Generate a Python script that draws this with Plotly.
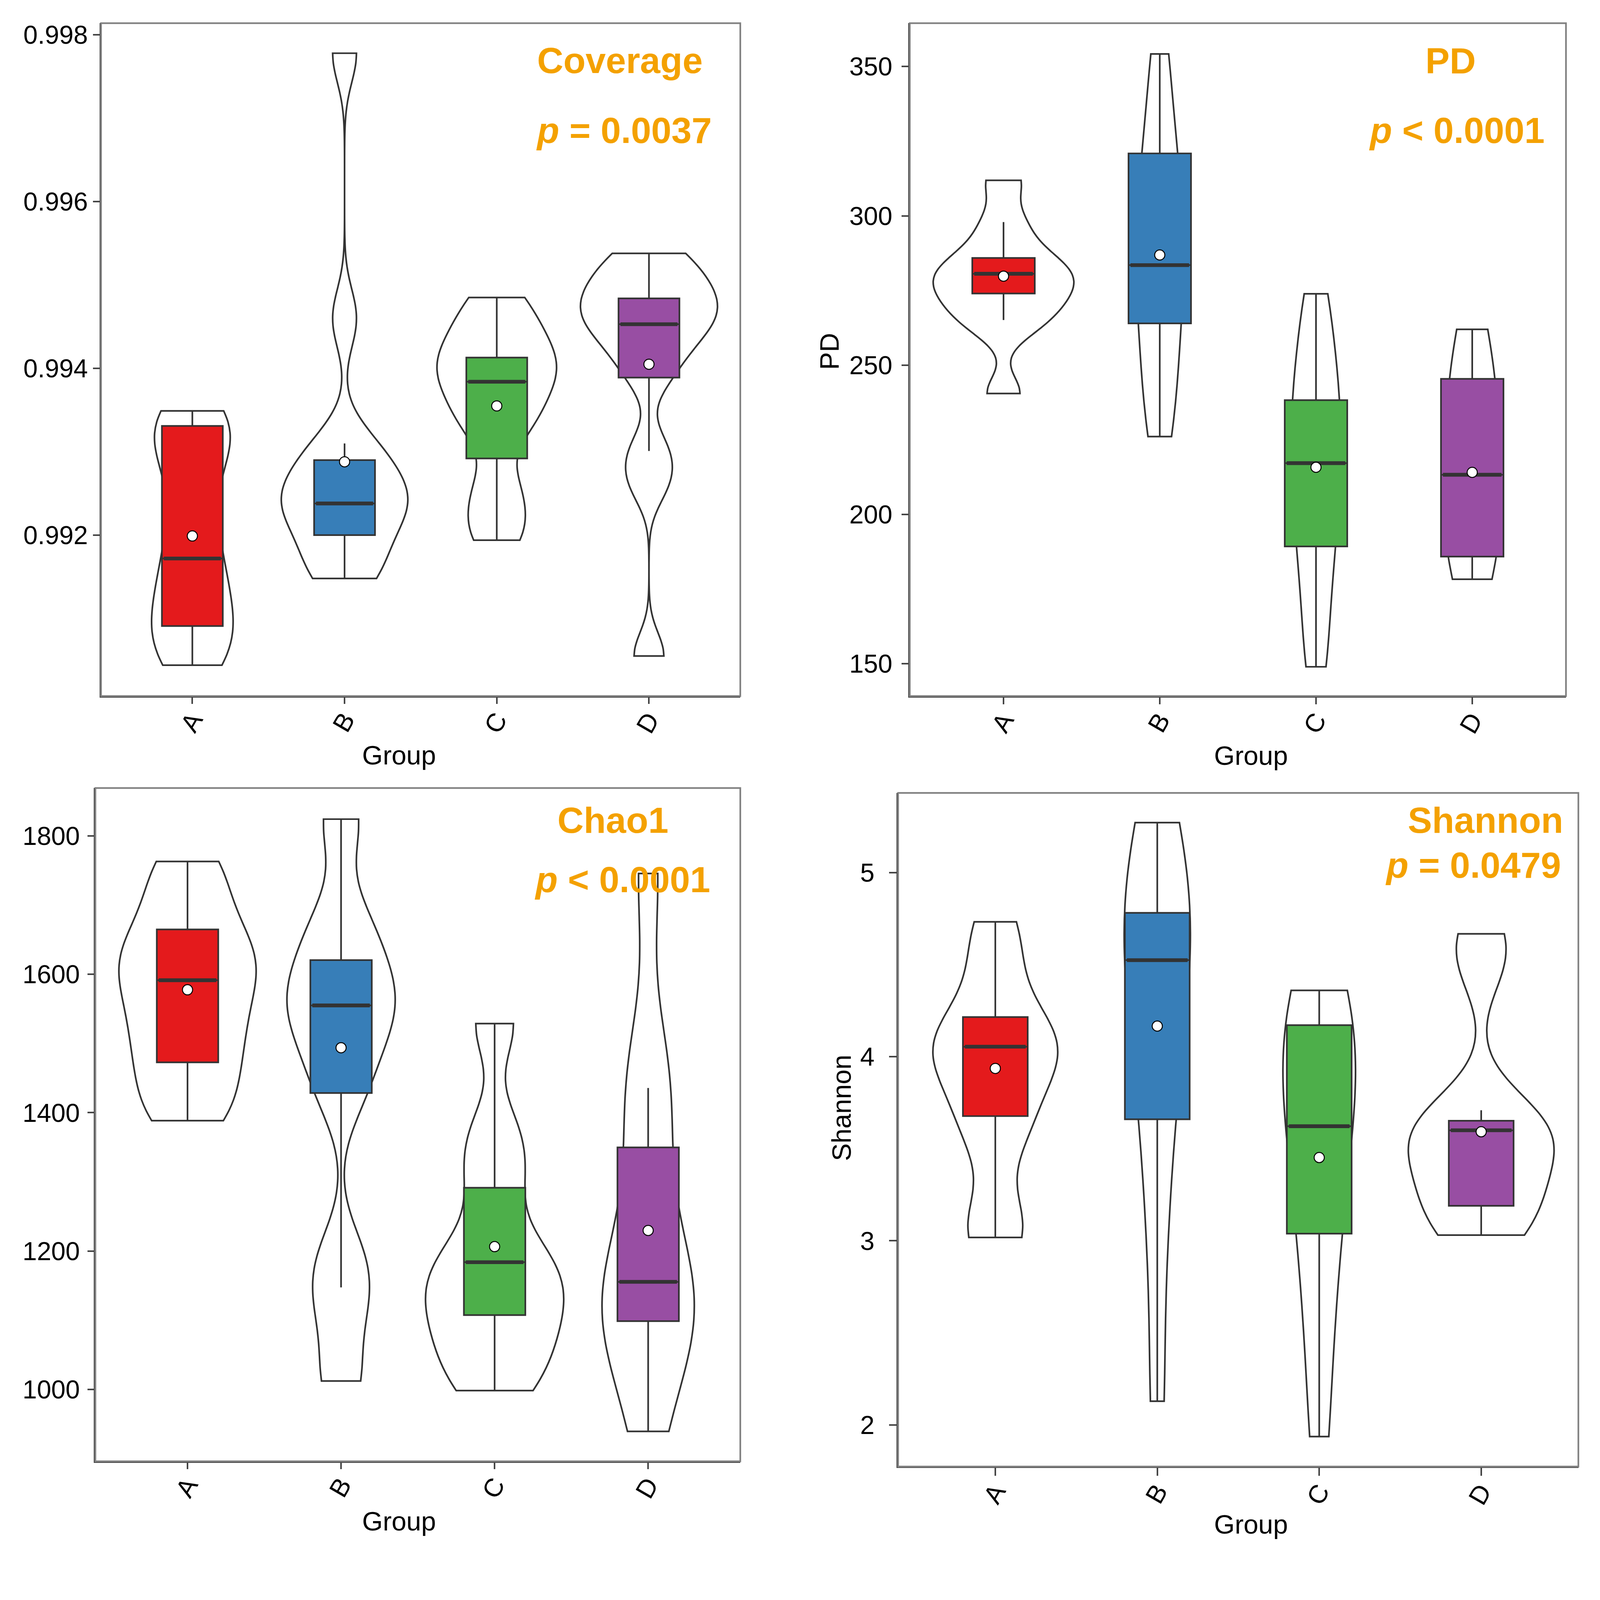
import plotly.graph_objects as go

groups = ["A", "B", "C", "D"]
colors = ["#E41A1C", "#377EB8", "#4DAF4A", "#984EA3"]

# ---- box statistics: q1, median, q3, lower whisker, upper whisker, mean
cov_q1 = [0.99091, 0.99200, 0.99292, 0.99389]
cov_med = [0.99172, 0.99238, 0.99384, 0.99453]
cov_q3 = [0.99331, 0.99290, 0.99413, 0.99484]
cov_lo = [0.99044, 0.99148, 0.99194, 0.99301]
cov_hi = [0.99349, 0.99310, 0.99485, 0.99538]
cov_mean = [0.99199, 0.99288, 0.99355, 0.99405]

pd_q1 = [274.0, 264.0, 189.3, 185.9]
pd_med = [280.6, 283.5, 217.2, 213.3]
pd_q3 = [285.9, 320.9, 238.3, 245.4]
pd_lo = [265.1, 226.1, 149.0, 178.3]
pd_hi = [297.9, 354.2, 273.9, 262.0]
pd_mean = [279.8, 286.9, 215.8, 214.1]

chao_q1 = [1472.7, 1428.4, 1107.6, 1098.9]
chao_med = [1591.3, 1554.9, 1184.0, 1155.6]
chao_q3 = [1664.7, 1620.4, 1291.6, 1349.8]
chao_lo = [1388.4, 1147.6, 998.5, 939.6]
chao_hi = [1762.9, 1824.0, 1528.7, 1435.6]
chao_mean = [1577.5, 1493.8, 1206.5, 1229.8]

sh_q1 = [3.677, 3.660, 3.039, 3.190]
sh_med = [4.054, 4.524, 3.622, 3.600]
sh_q3 = [4.215, 4.781, 4.171, 3.652]
sh_lo = [3.018, 2.129, 1.937, 3.031]
sh_hi = [4.732, 5.271, 4.360, 3.709]
sh_mean = [3.936, 4.166, 3.452, 3.592]

# ---- estimated sample values behind the violins
cov_A = [0.99044, 0.99062, 0.99085, 0.99110, 0.99135, 0.99165, 0.99200, 0.99245, 0.99290, 0.99315, 0.99335, 0.99349]
cov_B = [0.99148, 0.99160, 0.99190, 0.99215, 0.99235, 0.99240, 0.99250, 0.99270, 0.99295, 0.99310, 0.99460, 0.99778]
cov_C = [0.99194, 0.99225, 0.99262, 0.99325, 0.99345, 0.99370, 0.99388, 0.99402, 0.99416, 0.99435, 0.99458, 0.99485]
cov_D = [0.99055, 0.99262, 0.99301, 0.99392, 0.99425, 0.99445, 0.99460, 0.99472, 0.99485, 0.99500, 0.99520, 0.99538]

pd_A = [240.5, 262.0, 267.0, 271.0, 275.0, 278.0, 281.0, 284.0, 289.0, 298.0, 311.9]
pd_B = [226.1, 240.0, 254.0, 266.0, 277.0, 286.0, 295.0, 306.0, 318.0, 332.0, 354.2]
pd_C = [149.0, 168.0, 184.0, 196.0, 207.0, 217.2, 226.0, 236.0, 246.0, 258.0, 273.9]
pd_D = [178.3, 184.0, 191.0, 199.0, 207.0, 215.0, 224.0, 233.0, 243.0, 253.0, 262.0]

chao_A = [1388.4, 1435, 1480, 1520, 1560, 1595, 1625, 1655, 1705, 1762.9]
chao_B = [1012.4, 1120, 1190, 1430, 1500, 1545, 1575, 1620, 1680, 1824.0]
chao_C = [998.5, 1040, 1080, 1115, 1145, 1175, 1210, 1300, 1370, 1528.7]
chao_D = [939.6, 1050, 1095, 1120, 1145, 1185, 1300, 1420, 1470, 1745.5]

sh_A = [3.018, 3.10, 3.55, 3.677, 3.88, 3.98, 4.054, 4.12, 4.215, 4.50, 4.732]
sh_B = [2.129, 3.00, 3.55, 3.90, 4.20, 4.40, 4.60, 4.75, 4.90, 5.10, 5.271]
sh_C = [1.937, 2.50, 2.90, 3.20, 3.45, 3.65, 3.85, 4.02, 4.16, 4.27, 4.360]
sh_D = [3.031, 3.10, 3.20, 3.32, 3.44, 3.53, 3.59, 3.65, 3.709, 4.50, 4.667]

cov_bw = [0.0004, 0.00035, 0.0003, 0.00028]
pd_bw = [6, 18, 15, 20]
chao_bw = [45, 55, 50, 100]
sh_bw = [0.2, 0.47, 0.44, 0.2]

titles = ["Coverage", "PD", "Chao1", "Shannon"]
pvals = ["<b><i>p</i> = 0.0037</b>", "<b><i>p</i> &lt; 0.0001</b>",
         "<b><i>p</i> &lt; 0.0001</b>", "<b><i>p</i> = 0.0479</b>"]
ytitles = ["", "PD", "", "Shannon"]
yranges = [[0.99007, 0.99814], [139.2, 364.5], [896.4, 1868.9], [1.774, 5.432]]
yticks = [[0.992, 0.994, 0.996, 0.998], [150, 200, 250, 300, 350],
          [1000, 1200, 1400, 1600, 1800], [2, 3, 4, 5]]

# ---- layout geometry, in pixels of the final picture
W_L, H_L = 4070, 3961          # css size of the figure
KX, CX, KY, CY = 1.0394, 6.5, 1.0385, 13.8   # picture px = K * css px + C (measured)
FS = 1 / 1.039                 # css px per picture px for fonts and strokes


def fx(px):
    return ((px - CX) / KX) / W_L


def fy(py):
    return 1 - ((py - CY) / KY) / H_L


panel_px = [(267, 1968, 60, 1852), (2419, 4165, 60, 1852),
            (252, 1968, 2097, 3890), (2388, 4198, 2110, 3904)]
title_px = [(1648, 159), (3858, 161), (1629, 2183), (3951, 2183)]
pval_px = [(1658, 346), (3874, 346), (1654, 2341), (3918, 2303)]
group_px = [(1060, 2009), (3327, 2010), (1060, 4049), (3327, 4058)]
ytitle_px = [None, (2204, 934), None, (2237, 2949)]
ylabel_standoff = [0, 10, 6, 24]
ticklen_px = [17, 18, 17, 20]

samples = [[cov_A, cov_B, cov_C, cov_D], [pd_A, pd_B, pd_C, pd_D],
           [chao_A, chao_B, chao_C, chao_D], [sh_A, sh_B, sh_C, sh_D]]
bws = [cov_bw, pd_bw, chao_bw, sh_bw]
stats = [(cov_q1, cov_med, cov_q3, cov_lo, cov_hi, cov_mean),
         (pd_q1, pd_med, pd_q3, pd_lo, pd_hi, pd_mean),
         (chao_q1, chao_med, chao_q3, chao_lo, chao_hi, chao_mean),
         (sh_q1, sh_med, sh_q3, sh_lo, sh_hi, sh_mean)]

FONT = "Liberation Sans, Arial, sans-serif"
LINE = "#333333"
ORANGE = "#F4A100"
LW = 4.4 * FS

fig = go.Figure()
layout = dict(
    width=W_L, height=H_L, margin=dict(l=0, r=0, t=0, b=0), autosize=False,
    paper_bgcolor="white", plot_bgcolor="white", showlegend=False,
    font=dict(family=FONT, size=round(70 * FS), color="black"),
    boxmode="overlay", violinmode="overlay", violingap=0.1, violingroupgap=0,
)
annotations = []
shapes = []

for k in range(4):
    sfx = "" if k == 0 else str(k + 1)
    xa, ya = "x" + sfx, "y" + sfx
    q1, med, q3, lo, hi, mean = stats[k]
    for i, g in enumerate(groups):
        fig.add_trace(go.Violin(
            x=[g] * len(samples[k][i]), y=samples[k][i], xaxis=xa, yaxis=ya,
            bandwidth=bws[k][i], spanmode="hard", scalegroup="panel%d" % k, scalemode="width",
            points=False, fillcolor="white",
            line=dict(color=LINE, width=LW), hoverinfo="skip", name="%s%d" % (g, k)))
    for i, g in enumerate(groups):
        fig.add_trace(go.Box(
            x=[g], q1=[q1[i]], median=[med[i]], q3=[q3[i]],
            lowerfence=[lo[i]], upperfence=[hi[i]], xaxis=xa, yaxis=ya,
            width=0.4, whiskerwidth=0, boxpoints=False, fillcolor=colors[i],
            line=dict(color=LINE, width=LW), name=g))
    for i, g in enumerate(groups):
        m = med[i]
        fig.add_trace(go.Box(
            x=[g], q1=[m], median=[m], q3=[m], lowerfence=[m], upperfence=[m],
            xaxis=xa, yaxis=ya, width=0.375, whiskerwidth=0, boxpoints=False,
            fillcolor="rgba(0,0,0,0)", line=dict(color=LINE, width=10 * FS), name=g))
    fig.add_trace(go.Scatter(
        x=groups, y=mean, xaxis=xa, yaxis=ya, mode="markers",
        marker=dict(symbol="circle", size=27 * FS, color="white",
                    line=dict(color="black", width=2.6 * FS))))

    x0, x1, y0, y1 = panel_px[k]
    axis_common = dict(showline=True, linecolor="#444444", linewidth=LW, ticks="outside",
                       ticklen=ticklen_px[k] * FS, tickwidth=3.8 * FS, tickcolor="#444444",
                       showgrid=False, zeroline=False,
                       tickfont=dict(family=FONT, size=round(69 * FS), color="black"))
    layout["xaxis" + sfx] = dict(axis_common, domain=[fx(x0), fx(x1)], anchor=ya, type="category",
                                 categoryorder="array", categoryarray=groups,
                                 range=[-0.6, 3.6], tickangle=-60, ticklabelstandoff=-24)
    layout["yaxis" + sfx] = dict(axis_common, domain=[fy(y1), fy(y0)], anchor=xa, range=yranges[k],
                                 tickvals=yticks[k], ticklabelstandoff=ylabel_standoff[k])
    shapes.append(dict(type="rect", xref=xa + " domain", yref=ya + " domain",
                       x0=0, x1=1, y0=0, y1=1, line=dict(color="#808080", width=LW), layer="above"))
    annotations.append(dict(text="<b>%s</b>" % titles[k], xref="paper", yref="paper",
                            x=fx(title_px[k][0]), y=fy(title_px[k][1]), xanchor="center", yanchor="middle",
                            showarrow=False, font=dict(family=FONT, size=round(97 * FS), color=ORANGE)))
    annotations.append(dict(text=pvals[k], xref="paper", yref="paper",
                            x=fx(pval_px[k][0]), y=fy(pval_px[k][1]), xanchor="center", yanchor="middle",
                            showarrow=False, font=dict(family=FONT, size=round(97 * FS), color=ORANGE)))
    annotations.append(dict(text="Group", xref="paper", yref="paper",
                            x=fx(group_px[k][0]), y=fy(group_px[k][1]),
                            xanchor="center", yanchor="middle", showarrow=False,
                            font=dict(family=FONT, size=round(71 * FS), color="black")))
    if ytitle_px[k]:
        annotations.append(dict(text=ytitles[k], xref="paper", yref="paper",
                                x=fx(ytitle_px[k][0]), y=fy(ytitle_px[k][1]), textangle=-90,
                                xanchor="center", yanchor="middle", showarrow=False,
                                font=dict(family=FONT, size=round(71 * FS), color="black")))

layout["annotations"] = annotations
layout["shapes"] = shapes
fig.update_layout(**layout)
fig.write_html("out.html")
